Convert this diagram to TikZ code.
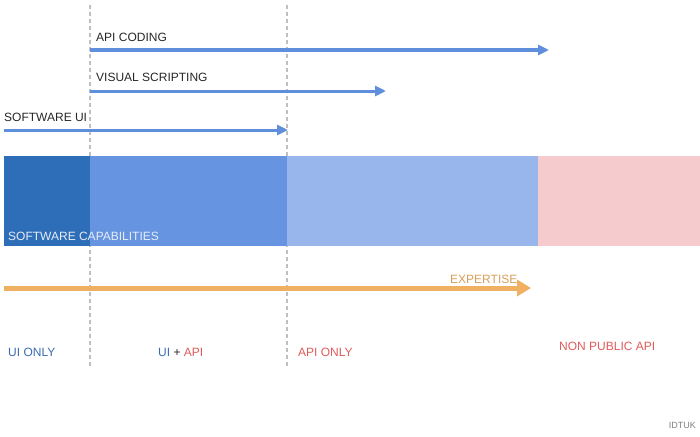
\documentclass[tikz,border=0pt]{standalone}
\usepackage{fontspec}
\setmainfont{Liberation Sans}
\usetikzlibrary{arrows.meta}

\definecolor{toolblue}{HTML}{5F8FDC}
\definecolor{uiblue}{HTML}{2E6DB8}
\definecolor{midblue}{HTML}{6694E0}
\definecolor{lightblue}{HTML}{98B6EC}
\definecolor{lightpink}{HTML}{F6CBCE}
\definecolor{expertorange}{HTML}{F0B062}
\definecolor{labelblue}{HTML}{3A6CB0}
\definecolor{labelred}{HTML}{E25A5A}

\tikzset{
	guide/.style={draw=gray!50, line width=1.2pt, dash pattern=on 4pt off 3pt},
	toolarrow/.style={draw=toolblue, line width=3pt, -{Triangle[length=11pt,width=10pt]}},
	label/.style={font=\fontsize{12}{14}\selectfont, inner sep=0pt, anchor=west, text=black!85},
}

\begin{document}
\begin{tikzpicture}[x=1pt,y=-1pt]
	\useasboundingbox (0,0) rectangle (700,436);

	% guides
	\coordinate (g1top) at (90,5);
	\coordinate (g1bot) at (90,368);
	\coordinate (g2top) at (287,5);
	\coordinate (g2bot) at (287,368);
	\draw[guide] (g1top) -- (g1bot);
	\draw[guide] (g2top) -- (g2bot);

	% capability bar
	\fill[uiblue] (4,156) rectangle (90,246);
	\fill[midblue] (90,156) rectangle (287,246);
	\fill[lightblue] (287,156) rectangle (538,246);
	\fill[lightpink] (538,156) rectangle (700,246);
	\node[label, text=white!88!uiblue] (cap) at (8,236) {SOFTWARE CAPABILITIES};

	% tool arrows
	\coordinate (codeS) at (90,50);
	\coordinate (codeE) at (549,50);
	\coordinate (visS) at (90,91);
	\coordinate (visE) at (386,91);
	\coordinate (uiS) at (4,130);
	\coordinate (uiE) at (288,130);
	\draw[toolarrow] (codeS) -- (codeE);
	\draw[toolarrow] (visS) -- (visE);
	\draw[toolarrow] (uiS) -- (uiE);
	\node[label] (code) at (96,37) {API CODING};
	\node[label] (vis) at (96,77) {VISUAL SCRIPTING};
	\node[label] (ui) at (4,117) {SOFTWARE UI};

	% expertise
	\coordinate (expS) at (4,288);
	\coordinate (expE) at (531,288);
	\draw[draw=expertorange, line width=5pt, -{Triangle[length=14pt,width=16pt]}] (expS) -- (expE);
	\node[label, text=expertorange!90!black] (exp) at (450,279) {EXPERTISE};

	% zones
	\node[label, text=labelblue] (uionly) at (8,352) {UI ONLY};
	\node[label] (uiapi) at (158,352) {\textcolor{labelblue}{UI} + \textcolor{labelred}{API}};
	\node[label, text=labelred] (apionly) at (298,352) {API ONLY};
	\node[label, text=labelred] (nonpub) at (559,346) {NON PUBLIC API};

	\node[font=\fontsize{9}{10}\selectfont, text=gray, inner sep=0pt, anchor=east] (brand) at (696,425) {IDTUK};
\end{tikzpicture}
\end{document}
